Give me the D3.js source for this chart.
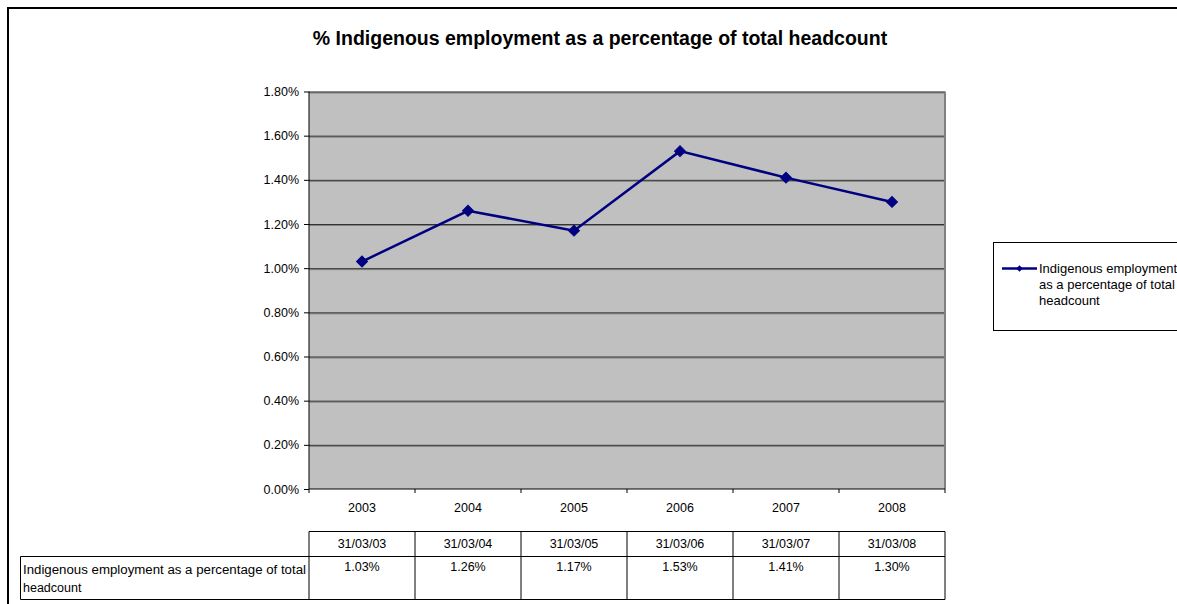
<!DOCTYPE html>
<html>
<head>
<meta charset="utf-8">
<script src="https://cdn.jsdelivr.net/npm/d3@7"></script>
<style>
  body { margin: 0; background: #fff; overflow: hidden; }
  svg text { font-family: "Liberation Sans", Arial, sans-serif; }
</style>
</head>
<body>
<div id="chart"></div>
<script>
// Chart data
const years = ["2003", "2004", "2005", "2006", "2007", "2008"];
const dates = ["31/03/03", "31/03/04", "31/03/05", "31/03/06", "31/03/07", "31/03/08"];
const values = [1.03, 1.26, 1.17, 1.53, 1.41, 1.30];
const yTicks = [0, 0.2, 0.4, 0.6, 0.8, 1.0, 1.2, 1.4, 1.6, 1.8];
const title = "% Indigenous employment as a percentage of total headcount";

const W = 1177, H = 604;
const plot = { left: 309, right: 945, top: 91.5, bottom: 489 };

const svg = d3.select("#chart")
  .append("svg")
  .attr("width", W)
  .attr("height", H);

// Outer chart frame (open at the right and bottom)
svg.append("path")
  .attr("d", `M8,${H + 5}V8H${W + 5}`)
  .attr("fill", "none")
  .attr("stroke", "#000")
  .attr("stroke-width", 2);

// Title
svg.append("text")
  .attr("x", 600)
  .attr("y", 45)
  .attr("text-anchor", "middle")
  .attr("font-size", "19.5px")
  .attr("font-weight", "bold")
  .text(title);

// Scales
const x = d3.scaleBand()
  .domain(years)
  .range([plot.left, plot.right]);

const y = d3.scaleLinear()
  .domain([0, 1.8])
  .range([plot.bottom, plot.top]);

// Plot area background
svg.append("rect")
  .attr("x", plot.left)
  .attr("y", plot.top)
  .attr("width", plot.right - plot.left)
  .attr("height", plot.bottom - plot.top)
  .attr("fill", "#c0c0c0");

// Gridlines (with light shadow under each)
const grid = svg.append("g");
grid.selectAll(".shadow")
  .data(yTicks.slice(1))
  .enter()
  .append("line")
  .attr("x1", plot.left).attr("x2", plot.right)
  .attr("y1", d => y(d) + 1.5).attr("y2", d => y(d) + 1.5)
  .attr("stroke", "#808080")
  .attr("stroke-width", 1);
grid.selectAll(".gl")
  .data(yTicks.slice(1))
  .enter()
  .append("line")
  .attr("x1", plot.left).attr("x2", plot.right)
  .attr("y1", d => y(d) + 0.5).attr("y2", d => y(d) + 0.5)
  .attr("stroke", "#333")
  .attr("stroke-width", 1);

// Right edge of plot area
svg.append("line")
  .attr("x1", plot.right).attr("x2", plot.right)
  .attr("y1", plot.top).attr("y2", plot.bottom)
  .attr("stroke", "#808080")
  .attr("stroke-width", 2);

// Y axis
const yAxis = svg.append("g")
  .attr("transform", `translate(${plot.left},0)`)
  .call(d3.axisLeft(y)
    .tickValues(yTicks)
    .tickSize(5)
    .tickFormat(d => d.toFixed(2) + "%"));
yAxis.selectAll("text").attr("font-size", "12.5px").attr("fill", "#000").attr("dx", "-2");
yAxis.selectAll("line, path").attr("stroke", "#000");
yAxis.select(".domain").attr("d", `M0,${plot.top}V${plot.bottom}`);

// X axis
const xAxis = svg.append("g")
  .attr("transform", `translate(0,${plot.bottom})`);
xAxis.append("line")
  .attr("x1", plot.left).attr("x2", plot.right)
  .attr("stroke", "#000");
xAxis.selectAll(".tick")
  .data(years.concat(["end"]))
  .enter()
  .append("line")
  .attr("x1", (d, i) => i < years.length ? x(d) : plot.right)
  .attr("x2", (d, i) => i < years.length ? x(d) : plot.right)
  .attr("y1", 0).attr("y2", 4)
  .attr("stroke", "#000");
xAxis.selectAll(".lbl")
  .data(years)
  .enter()
  .append("text")
  .attr("x", d => x(d) + x.bandwidth() / 2)
  .attr("y", 23)
  .attr("text-anchor", "middle")
  .attr("font-size", "12.5px")
  .text(d => d);

// Line and markers
const line = d3.line()
  .x((d, i) => x(years[i]) + x.bandwidth() / 2)
  .y(d => y(d));

svg.append("path")
  .datum(values)
  .attr("d", line)
  .attr("fill", "none")
  .attr("stroke", "#000080")
  .attr("stroke-width", 2.5);

// Square symbol rotated 45 degrees gives an even diamond
const diamond = d3.symbol().type(d3.symbolSquare).size(60);
svg.selectAll(".pt")
  .data(values)
  .enter()
  .append("path")
  .attr("d", diamond)
  .attr("transform", (d, i) => `translate(${x(years[i]) + x.bandwidth() / 2},${y(d)}) rotate(45)`)
  .attr("fill", "#000080")
  .attr("stroke", "#000080");

// Legend
const legend = svg.append("g");
legend.append("rect")
  .attr("x", 993.5).attr("y", 242.5)
  .attr("width", 200).attr("height", 88)
  .attr("fill", "#fff")
  .attr("stroke", "#000");
legend.append("line")
  .attr("x1", 1002).attr("x2", 1037)
  .attr("y1", 268.5).attr("y2", 268.5)
  .attr("stroke", "#000080")
  .attr("stroke-width", 2.5);
legend.append("path")
  .attr("d", d3.symbol().type(d3.symbolSquare).size(22))
  .attr("transform", "translate(1019.5,268.5) rotate(45)")
  .attr("fill", "#000080");
const legendLines = ["Indigenous employment", "as a percentage of total", "headcount"];
legend.selectAll(".lt")
  .data(legendLines)
  .enter()
  .append("text")
  .attr("x", 1039)
  .attr("y", (d, i) => 273 + i * 16)
  .attr("font-size", "13px")
  .text(d => d);

// Data table
const table = svg.append("g");
const hdrTop = 531.5, hdrBot = 556.5, rowBot = 599.5, tLeft = 20.5;

table.append("path")
  .attr("d", `M${plot.left},${hdrTop}H${plot.right}V${rowBot}H${tLeft}V${hdrBot}H${plot.right}`)
  .attr("fill", "none")
  .attr("stroke", "#000");
table.selectAll(".col")
  .data(years)
  .enter()
  .append("line")
  .attr("x1", d => x(d)).attr("x2", d => x(d))
  .attr("y1", hdrTop).attr("y2", rowBot)
  .attr("stroke", "#000");

table.selectAll(".hdr")
  .data(dates)
  .enter()
  .append("text")
  .attr("x", (d, i) => x(years[i]) + x.bandwidth() / 2)
  .attr("y", 548)
  .attr("text-anchor", "middle")
  .attr("font-size", "12.5px")
  .text(d => d);

table.selectAll(".val")
  .data(values)
  .enter()
  .append("text")
  .attr("x", (d, i) => x(years[i]) + x.bandwidth() / 2)
  .attr("y", 571)
  .attr("text-anchor", "middle")
  .attr("font-size", "12.5px")
  .text(d => d.toFixed(2) + "%");

table.append("text")
  .attr("x", 23)
  .attr("y", 574)
  .attr("font-size", "12.5px")
  .attr("textLength", 283)
  .attr("lengthAdjust", "spacingAndGlyphs")
  .text("Indigenous employment as a percentage of total");
table.append("text")
  .attr("x", 23)
  .attr("y", 592)
  .attr("font-size", "12.5px")
  .text("headcount");
</script>
</body>
</html>
